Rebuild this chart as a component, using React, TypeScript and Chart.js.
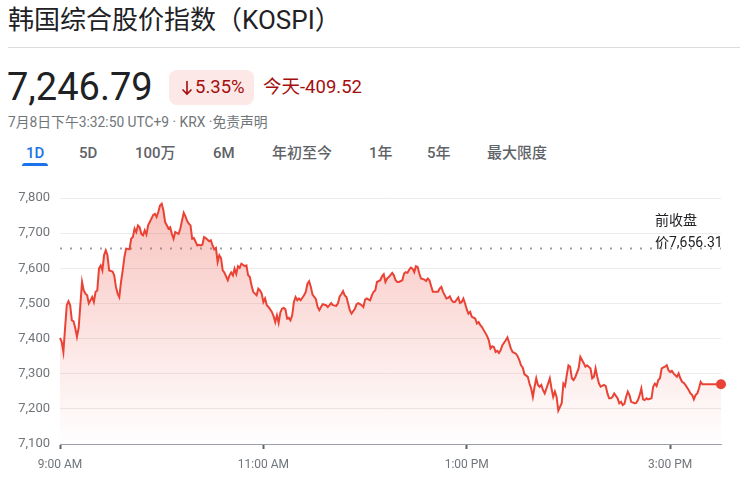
import React, { useEffect, useRef } from "react";
import { Chart, registerables } from "chart.js";

Chart.register(...registerables);

// ---- data (minutes since 9:00 open, KOSPI index level) ----
const minutesSinceOpen = [
  0, 1, 2, 3, 4, 5, 6, 7, 8, 9, 10, 11, 12, 13, 14, 15, 16, 17, 19, 20, 21, 22, 23, 24, 25, 26, 27, 28, 29, 31,
  32, 33, 34, 35, 36, 37, 38, 39, 41, 42, 43, 44, 45, 46, 47, 48, 49, 50, 51, 52, 53, 55, 56, 57, 58, 59, 60, 61, 62, 64,
  65, 66, 67, 68, 70, 71, 72, 73, 74, 75, 76, 77, 78, 79, 81, 82, 83, 84, 85, 86, 88, 89, 90, 91, 92, 93, 94, 95, 96, 97,
  99, 100, 101, 102, 103, 104, 105, 106, 107, 109, 110, 111, 112, 113, 114, 116, 117, 118, 119, 120, 121, 122, 123, 125, 126, 127, 128, 129, 130, 131,
  132, 133, 134, 135, 136, 137, 138, 139, 140, 141, 142, 144, 145, 146, 147, 148, 149, 151, 152, 153, 154, 155, 157, 158, 159, 160, 161, 163, 164, 165,
  166, 167, 168, 169, 170, 171, 172, 174, 175, 176, 177, 178, 179, 180, 181, 183, 184, 185, 186, 187, 189, 190, 191, 192, 193, 194, 196, 197, 198, 199,
  200, 202, 203, 204, 205, 206, 207, 208, 209, 210, 211, 212, 213, 215, 216, 217, 218, 219, 220, 222, 223, 224, 225, 226, 228, 229, 230, 231, 232, 233,
  235, 236, 237, 238, 239, 240, 241, 242, 243, 245, 246, 247, 248, 249, 250, 252, 253, 254, 255, 256, 257, 258, 259, 260, 261, 263, 264, 265, 266, 267,
  269, 270, 271, 272, 273, 274, 276, 277, 278, 279, 280, 281, 282, 283, 284, 285, 286, 287, 289, 290, 291, 292, 293, 294, 296, 297, 298, 299, 300, 301,
  302, 303, 304, 306, 307, 308, 309, 310, 311, 313, 314, 315, 316, 317, 318, 319, 321, 322, 323, 324, 325, 326, 327, 329, 330, 331, 332, 333, 334, 335,
  336, 337, 339, 340, 341, 342, 343, 344, 345, 346, 347, 349, 350, 351, 352, 353, 354, 355, 356, 357, 358, 359, 360, 361, 362, 364, 365, 366, 367, 368,
  369, 371, 372, 373, 374, 375, 376, 377, 378, 379, 390,
];

const kospiValues = [
  7402, 7391, 7362, 7430, 7495, 7506, 7495, 7452, 7449, 7430, 7405, 7430, 7495, 7561, 7537, 7528, 7523, 7500, 7518, 7504, 7533, 7537, 7599, 7608, 7594, 7637, 7651, 7637, 7594, 7591,
  7580, 7547, 7528, 7518, 7561, 7594, 7632, 7656, 7654, 7684, 7689, 7713, 7703, 7722, 7717, 7698, 7694, 7708, 7696, 7722, 7732, 7752, 7755, 7746, 7760, 7779, 7784, 7765, 7732, 7713,
  7717, 7698, 7684, 7703, 7698, 7713, 7736, 7758, 7748, 7735, 7727, 7722, 7684, 7686, 7665, 7667, 7665, 7667, 7689, 7686, 7677, 7680, 7665, 7654, 7658, 7618, 7637, 7629, 7594, 7588,
  7566, 7580, 7588, 7580, 7599, 7584, 7606, 7601, 7613, 7606, 7608, 7580, 7575, 7552, 7533, 7523, 7542, 7537, 7528, 7504, 7514, 7495, 7490, 7476, 7464, 7447, 7466, 7445, 7474, 7485,
  7487, 7483, 7457, 7459, 7452, 7466, 7504, 7518, 7509, 7514, 7509, 7523, 7533, 7556, 7563, 7547, 7525, 7512, 7490, 7481, 7490, 7498, 7495, 7490, 7495, 7501, 7495, 7493, 7500, 7520,
  7526, 7535, 7523, 7518, 7500, 7481, 7471, 7485, 7498, 7501, 7498, 7495, 7490, 7511, 7514, 7509, 7523, 7533, 7537, 7561, 7566, 7577, 7583, 7561, 7571, 7575, 7587, 7580, 7566, 7561,
  7561, 7566, 7585, 7589, 7587, 7596, 7602, 7599, 7589, 7606, 7604, 7585, 7571, 7568, 7564, 7571, 7566, 7549, 7533, 7533, 7533, 7542, 7547, 7533, 7514, 7516, 7520, 7509, 7504, 7504,
  7517, 7501, 7504, 7514, 7500, 7483, 7471, 7476, 7462, 7457, 7443, 7447, 7438, 7433, 7424, 7407, 7395, 7372, 7378, 7376, 7362, 7365, 7359, 7367, 7381, 7395, 7403, 7388, 7372, 7362,
  7357, 7350, 7339, 7324, 7318, 7299, 7291, 7272, 7258, 7234, 7263, 7287, 7268, 7263, 7268, 7253, 7244, 7258, 7287, 7258, 7234, 7249, 7234, 7195, 7216, 7272, 7265, 7296, 7324, 7320,
  7287, 7282, 7290, 7315, 7348, 7339, 7330, 7320, 7324, 7315, 7287, 7291, 7315, 7291, 7272, 7263, 7268, 7265, 7244, 7230, 7230, 7234, 7244, 7230, 7216, 7220, 7211, 7214, 7234, 7249,
  7239, 7220, 7216, 7217, 7225, 7239, 7258, 7227, 7225, 7230, 7227, 7230, 7263, 7272, 7265, 7282, 7287, 7315, 7318, 7320, 7324, 7310, 7305, 7308, 7301, 7291, 7301, 7287, 7277, 7274,
  7268, 7253, 7244, 7239, 7227, 7239, 7244, 7258, 7277, 7270, 7270,
];

const previousClose = 7656.31;
const xTickMinutes = [0, 120, 240, 360];
const xTickLabels = ["9:00 AM", "11:00 AM", "1:00 PM", "3:00 PM"];
const yMin = 7100;
const yMax = 7800;
const yStep = 100;
const sessionMinutes = 390;

const tabLabels = ["1D", "5D", "100万", "6M", "年初至今", "1年", "5年", "最大限度"];
const tabLefts = [26, 79, 135, 213, 272, 369, 427, 487];

const FONT = 'Roboto, "Noto Sans CJK SC", sans-serif';
const RED = "#ea4335";

function PriceChart() {
  const ref = useRef<HTMLCanvasElement | null>(null);
  useEffect(() => {
    if (!ref.current) return;
    const points = minutesSinceOpen.map((m, i) => ({ x: m, y: kospiValues[i] }));
    const last = points.length - 1;
    const chart = new Chart(ref.current, {
      type: "line",
      data: {
        datasets: [
          {
            data: points,
            borderColor: RED,
            borderWidth: 2,
            tension: 0,
            fill: "start",
            clip: false as any,
            backgroundColor: (ctx: any) => {
              const { chart } = ctx;
              const area = chart.chartArea;
              if (!area) return "rgba(234,67,53,0.15)";
              const g = chart.ctx.createLinearGradient(0, area.top, 0, area.bottom);
              g.addColorStop(0, "rgba(234,67,53,0.32)");
              g.addColorStop(1, "rgba(234,67,53,0)");
              return g;
            },
            pointRadius: (ctx: any) => (ctx.dataIndex === last ? 5 : 0),
            pointBackgroundColor: RED,
            pointBorderWidth: 0,
            pointHoverRadius: 0,
          },
          {
            data: [
              { x: 0, y: previousClose },
              { x: sessionMinutes, y: previousClose },
            ],
            borderColor: "#9aa0a6",
            borderWidth: 2,
            borderDash: [2, 8],
            pointRadius: 0,
            fill: false,
          },
        ],
      },
      options: {
        animation: false,
        responsive: false,
        maintainAspectRatio: false,
        layout: { padding: { top: 18, right: 19, left: 0, bottom: 0 } },
        plugins: { legend: { display: false }, tooltip: { enabled: false } },
        scales: {
          x: {
            type: "linear",
            min: 0,
            max: sessionMinutes,
            afterBuildTicks: (s: any) => {
              s.ticks = xTickMinutes.map((v) => ({ value: v }));
            },
            afterFit: (s: any) => {
              s.height = 33;
            },
            ticks: {
              autoSkip: false,
              maxRotation: 0,
              padding: 9,
              color: "#70757a",
              font: { family: FONT, size: 12 },
              callback: (v: any) => {
                const i = xTickMinutes.indexOf(Number(v));
                return i >= 0 ? xTickLabels[i] : "";
              },
            },
            grid: {
              drawOnChartArea: false,
              drawTicks: true,
              tickLength: 5,
              tickWidth: 2,
              tickColor: "#5f6368",
            },
            border: { display: true, color: "#9aa0a6", width: 1 },
          },
          y: {
            min: yMin,
            max: yMax,
            afterFit: (s: any) => {
              s.width = 60;
            },
            ticks: {
              stepSize: yStep,
              padding: 10,
              color: "#70757a",
              font: { family: FONT, size: 13 },
              callback: (v: any) => Number(v).toLocaleString("en-US"),
            },
            grid: {
              drawTicks: false,
              color: (ctx: any) => (ctx.tick && ctx.tick.value === yMin ? "rgba(0,0,0,0)" : "#ececec"),
              lineWidth: 1,
            },
            border: { display: false },
          },
        },
      },
    } as any);
    return () => chart.destroy();
  }, []);
  return <canvas ref={ref} width={740} height={297} style={{ position: "absolute", left: 0, top: 180, width: 740, height: 297 }} />;
}

export default function App() {
  const abs = (l: number, t: number, extra: React.CSSProperties = {}): React.CSSProperties => ({
    position: "absolute",
    left: l,
    top: t,
    whiteSpace: "nowrap",
    ...extra,
  });
  return (
    <div style={{ position: "absolute", left: 0, top: 0, width: 740, height: 477, overflow: "hidden", background: "#fff", fontFamily: FONT, color: "#202124" }}>
      <div style={abs(8, 3, { fontSize: 26, lineHeight: "34px" })}>韩国综合股价指数（KOSPI）</div>
      <div style={abs(8, 47, { width: 732, height: 1, background: "#dadce0" })} />
      <div style={abs(7, 64, { fontSize: 38, lineHeight: "46px" })}>7,246.79</div>
      <div style={abs(169, 70, { width: 85, height: 35, borderRadius: 8, background: "#fce8e6" })}>
        <svg width="12" height="16" viewBox="0 0 12 16" style={{ position: "absolute", left: 12, top: 10 }}>
          <path d="M6 1 V14 M1.5 9.5 L6 14 L10.5 9.5" stroke="#a50e0e" strokeWidth="1.6" fill="none" />
        </svg>
        <div style={abs(26, 5, { fontSize: 18.5, lineHeight: "24px", color: "#a50e0e" })}>5.35%</div>
      </div>
      <div style={abs(263, 75, { fontSize: 18.5, lineHeight: "24px", color: "#a50e0e" })}>今天-409.52</div>
      <div style={abs(8, 113, { fontSize: 13.8, lineHeight: "18px", color: "#70757a" })}>7月8日下午3:32:50 UTC+9 · KRX ·免责声明</div>
      {tabLabels.map((t, i) => (
        <div
          key={t}
          style={abs(tabLefts[i], 143, {
            fontSize: 15,
            lineHeight: "20px",
            fontWeight: 500,
            color: i === 0 ? "#1a73e8" : "#5f6368",
          })}
        >
          {t}
        </div>
      ))}
      <div style={abs(22, 163, { width: 26, height: 3, borderRadius: "3px 3px 0 0", background: "#1a73e8" })} />
      <PriceChart />
      <div style={abs(655, 209, { fontSize: 14, lineHeight: "22px", color: "#202124" })}>
        前收盘
        <br />
        价7,656.31
      </div>
    </div>
  );
}
